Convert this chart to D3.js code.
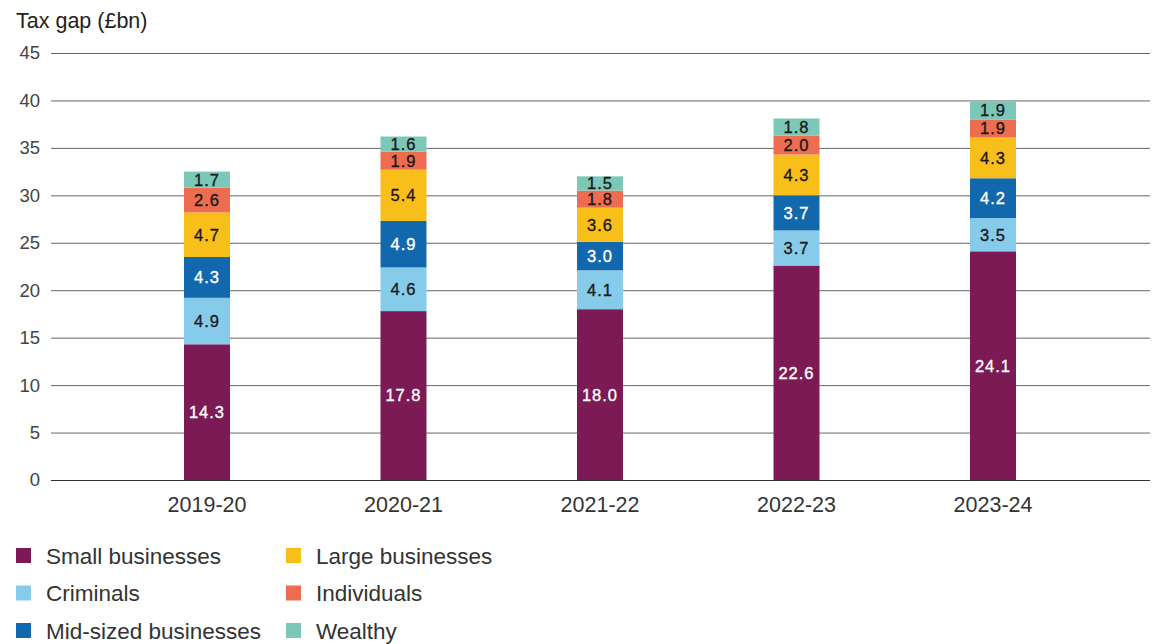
<!DOCTYPE html>
<html>
<head>
<meta charset="utf-8">
<script src="https://cdn.jsdelivr.net/npm/d3@7"></script>
<style>
  body { margin: 0; background: #fff; }
  text { font-family: "Liberation Sans", Arial, sans-serif; }
</style>
</head>
<body>
<div class="chart"></div>
<script>
var years = ["2019-20", "2020-21", "2021-22", "2022-23", "2023-24"];

var groups = ["Small businesses", "Criminals", "Mid-sized businesses", "Large businesses", "Individuals", "Wealthy"];

var smallBusinesses = [14.3, 17.8, 18.0, 22.6, 24.1];
var criminals = [4.9, 4.6, 4.1, 3.7, 3.5];
var midSized = [4.3, 4.9, 3.0, 3.7, 4.2];
var largeBusinesses = [4.7, 5.4, 3.6, 4.3, 4.3];
var individuals = [2.6, 1.9, 1.8, 2.0, 1.9];
var wealthy = [1.7, 1.6, 1.5, 1.8, 1.9];

var yTicks = [0, 5, 10, 15, 20, 25, 30, 35, 40, 45];

var colors = ["#7b1a55", "#87cbea", "#1268ac", "#f8be1a", "#ee6d50", "#7cc8b8"];
var labelColors = ["#fff", "#1a1a1a", "#fff", "#1a1a1a", "#1a1a1a", "#1a1a1a"];

var width = 1154, height = 644;

var svg = d3.select('.chart').append('svg').attr('width', width).attr('height', height);

var series = [smallBusinesses, criminals, midSized, largeBusinesses, individuals, wealthy];

var table = years.map(function(y, i) {
  var row = { year: y };
  groups.forEach(function(g, j) { row[g] = series[j][i]; });
  return row;
});

var stacked = d3.stack().keys(groups)(table);

var y = d3.scaleLinear().domain([0, 45]).range([480, 53]);

var x = d3.scaleBand().domain(years).range([108.75, 1091.25]).paddingInner(0.766).paddingOuter(0.383);

// gridlines
svg.append('g').selectAll('line')
  .data(yTicks).enter().append('line')
  .attr('x1', 51).attr('x2', 1150)
  .attr('y1', function(d) { return y(d) + 0.5; })
  .attr('y2', function(d) { return y(d) + 0.5; })
  .attr('stroke', function(d) { return d === 0 ? '#333' : '#666'; })
  .attr('stroke-width', 1);

svg.append('g').selectAll('text')
  .data(yTicks).enter().append('text')
  .attr('x', 40).attr('y', function(d) { return y(d); })
  .attr('dy', '0.35em')
  .attr('text-anchor', 'end')
  .attr('font-size', 18.5)
  .attr('fill', '#444')
  .text(function(d) { return d; });

svg.append('text')
  .attr('x', 16).attr('y', 28)
  .attr('font-size', 21.5)
  .attr('fill', '#222')
  .text('Tax gap (£bn)');

// bars
var layer = svg.append('g').selectAll('g')
  .data(stacked).enter().append('g')
  .attr('fill', function(d, i) { return colors[i]; });

layer.selectAll('rect')
  .data(function(d) { return d; }).enter().append('rect')
  .attr('x', function(d) { return x(d.data.year); })
  .attr('width', x.bandwidth())
  .attr('y', function(d) { return y(d[1]); })
  .attr('height', function(d) { return y(d[0]) - y(d[1]); });

layer.selectAll('text')
  .data(function(d, i) { return d.map(function(v) { return { v: v, i: i, key: d.key }; }); })
  .enter().append('text')
  .attr('x', function(d) { return x(d.v.data.year) + x.bandwidth() / 2; })
  .attr('y', function(d) { return (y(d.v[0]) + y(d.v[1])) / 2; })
  .attr('dy', '0.36em')
  .attr('text-anchor', 'middle')
  .attr('font-size', 16.5)
  .attr('letter-spacing', 1)
  .attr('fill', function(d) { return labelColors[d.i]; })
  .attr('stroke', function(d) { return labelColors[d.i]; })
  .attr('stroke-width', 0.35)
  .text(function(d) { return d.v.data[d.key].toFixed(1); });

// x labels
svg.append('g').selectAll('text')
  .data(years).enter().append('text')
  .attr('x', function(d) { return x(d) + x.bandwidth() / 2; })
  .attr('y', 512)
  .attr('text-anchor', 'middle')
  .attr('font-size', 21.5)
  .attr('fill', '#333')
  .text(function(d) { return d; });

// legend
var legend = svg.append('g').selectAll('g')
  .data(groups).enter().append('g')
  .attr('transform', function(d, i) {
    var col = Math.floor(i / 3), row = i % 3;
    return 'translate(' + (16 + col * 270) + ',' + (556 + row * 37.5) + ')';
  });

legend.append('rect')
  .attr('x', 0).attr('y', -8)
  .attr('width', 15).attr('height', 15)
  .attr('fill', function(d, i) { return colors[i]; });

legend.append('text')
  .attr('x', 30).attr('y', 0)
  .attr('dy', '0.35em')
  .attr('font-size', 22.5)
  .attr('fill', '#333')
  .text(function(d) { return d; });
</script>
</body>
</html>
